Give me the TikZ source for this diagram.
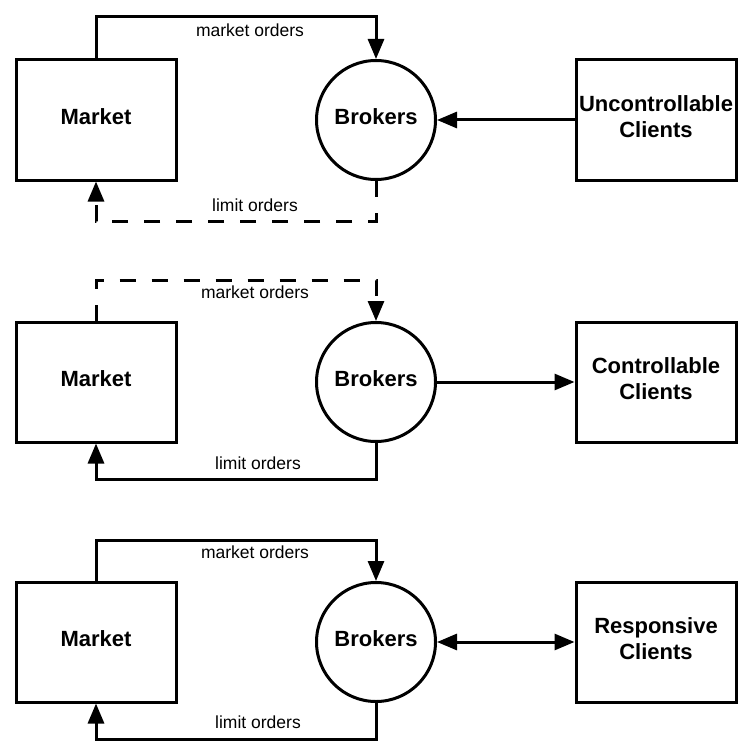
\documentclass[tikz,border=0pt]{standalone}
\usepackage{fontspec}
\setmainfont{Liberation Sans}
\usetikzlibrary{arrows.meta}
\begin{document}
\begin{tikzpicture}[x=1pt,y=-1pt,
  box/.style={draw,line width=3pt,minimum width=160pt,minimum height=120pt,inner sep=0pt,text depth=6pt,font=\fontsize{22}{26}\selectfont\bfseries,align=center},
  brk/.style={draw,circle,line width=3pt,minimum size=119pt,inner sep=0pt,text depth=6pt,font=\fontsize{22}{26}\selectfont\bfseries},
  tip/.tip={Triangle[length=20pt,width=16pt]},
  conn/.style={line width=3pt,-tip},
  dconn/.style={line width=3pt,tip-tip},
  dash16/.style={dash pattern=on 16pt off 16pt},
  lbl/.style={font=\fontsize{17.5}{20}\selectfont,inner sep=0pt}]
\useasboundingbox (0,0) rectangle (752,754);
% Row 1
\node[box] (m1) at (96,120) {Market};
\node[brk] (b1) at (376,120) {Brokers};
\node[box] (r1) at (656,120) {Uncontrollable\\Clients};
\coordinate (t1) at (0,17);
\coordinate (u1) at (0,221);
\draw[conn] (m1.north) -- (m1.north |- t1) -| (b1.north);
\draw[conn,dash16] (b1.south) -- (b1.south |- u1) -| (m1.south);
\draw[conn] (r1.west) -- (b1.east);
\node[lbl] (lm1) at (250,30) {market orders};
\node[lbl] (ll1) at (255,205) {limit orders};
% Row 2
\node[box] (m2) at (96,382) {Market};
\node[brk] (b2) at (376,382) {Brokers};
\node[box] (r2) at (656,382) {Controllable\\Clients};
\coordinate (t2) at (0,280);
\coordinate (u2) at (0,479);
\draw[conn,dash16] (m2.north) -- (m2.north |- t2) -| (b2.north);
\draw[conn] (b2.south) -- (b2.south |- u2) -| (m2.south);
\draw[conn] (b2.east) -- (r2.west);
\node[lbl] (lm2) at (255,292) {market orders};
\node[lbl] (ll2) at (258,463) {limit orders};
% Row 3
\node[box] (m3) at (96,642) {Market};
\node[brk] (b3) at (376,642) {Brokers};
\node[box] (r3) at (656,642) {Responsive\\Clients};
\coordinate (t3) at (0,540);
\coordinate (u3) at (0,739);
\draw[conn] (m3.north) -- (m3.north |- t3) -| (b3.north);
\draw[conn] (b3.south) -- (b3.south |- u3) -| (m3.south);
\draw[dconn] (b3.east) -- (r3.west);
\node[lbl] (lm3) at (255,552) {market orders};
\node[lbl] (ll3) at (258,722) {limit orders};
\end{tikzpicture}
\end{document}
